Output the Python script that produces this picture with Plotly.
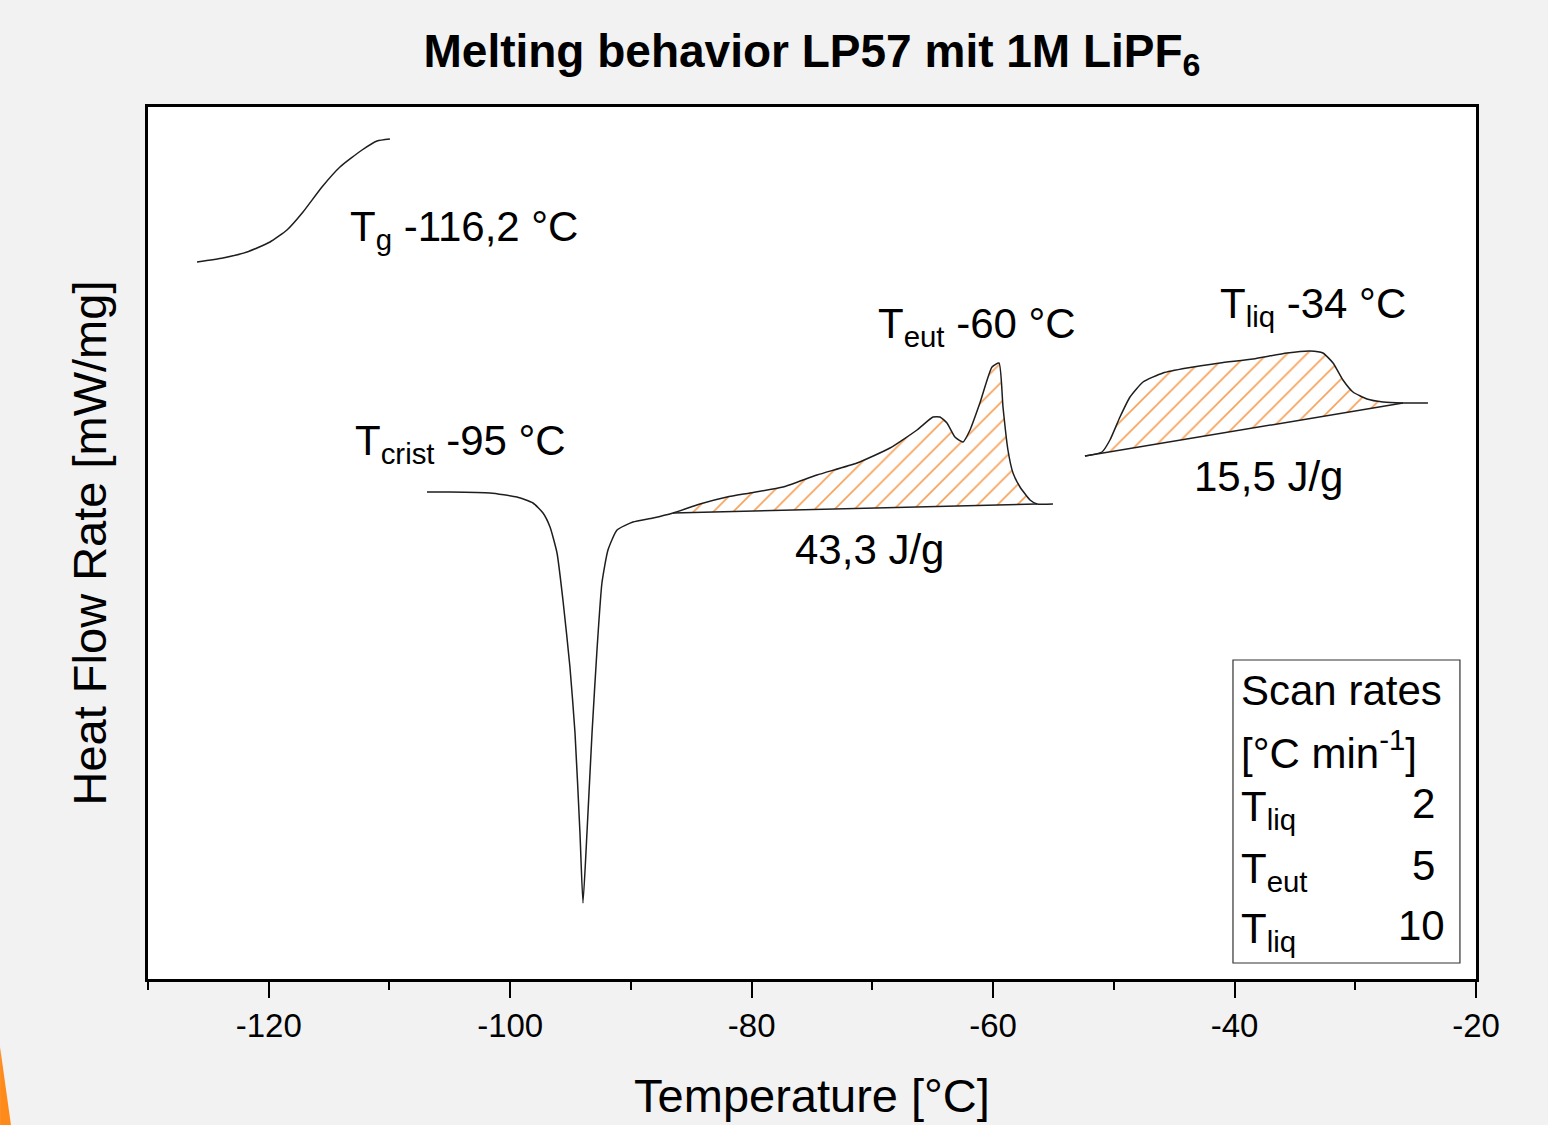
import plotly.graph_objects as go

# ---------------- data (Temperature °C, heat flow rate, arbitrary mW/mg scale) -------------
tg_T = [-125.94, -123.79, -121.80, -119.89, -118.49, -117.16, -115.59, -114.10, -112.27, -111.03, -109.96]
tg_Q = [7.17, 7.21, 7.27, 7.37, 7.49, 7.67, 7.92, 8.12, 8.29, 8.38, 8.40]

# crystallisation + eutectic melting scan
eu_T = [-106.89, -104.99, -101.67, -99.44, -98.11, -97.28, -96.70, -96.12, -95.63, -95.05, -94.63,
        -94.22, -93.97, -93.64, -93.22, -92.81, -92.40, -91.90, -91.15, -89.83, -88.17,
        -86.51, -84.28, -82.04, -80.14, -77.40, -74.59, -71.27, -68.54, -66.30, -64.98, -64.40,
        -63.82, -63.16, -62.49, -61.91, -61.09, -60.09, -59.51, -59.18, -58.77, -58.35, -57.77,
        -56.94, -56.36, -55.04]
eu_Q = [4.87, 4.87, 4.86, 4.82, 4.76, 4.66, 4.52, 4.26, 3.79, 3.12, 2.46,
        1.46, 0.76, 1.46, 2.46, 3.29, 3.96, 4.29, 4.49, 4.57, 4.61,
        4.66, 4.75, 4.82, 4.86, 4.92, 5.04, 5.16, 5.31, 5.49, 5.62, 5.62,
        5.56, 5.42, 5.37, 5.49, 5.76, 6.12, 6.16, 5.72, 5.29, 5.06, 4.92,
        4.79, 4.75, 4.75]

# liquidus melting scan
lq_T = [-52.39, -50.98, -50.32, -49.49, -48.66, -47.58, -45.93, -43.94, -41.21, -38.47, -35.66,
        -33.75, -32.68, -31.84, -31.02, -30.19, -29.03, -27.70, -26.05, -23.98]
lq_Q = [5.23, 5.27, 5.39, 5.62, 5.82, 5.97, 6.06, 6.11, 6.16, 6.20, 6.26,
        6.28, 6.26, 6.16, 5.99, 5.87, 5.80, 5.77, 5.76, 5.76]

# integration limits (indices into the scans) for the enthalpy areas
eu_int = (21, 44)
lq_int = (0, 18)

labels_main = ["T<sub>g</sub> -116,2 °C", "T<sub>crist</sub> -95 °C", "T<sub>eut</sub> -60 °C",
               "T<sub>liq</sub> -34 °C"]
enthalpies = ["43,3 J/g", "15,5 J/g"]
legend_rows = ["T<sub>liq</sub>", "T<sub>eut</sub>", "T<sub>liq</sub>"]
legend_rates = ["2", "5", "10"]

x_ticks = [-120, -100, -80, -60, -40, -20]

# ---------------- figure ----------------
FONT = "Liberation Sans, Arial, sans-serif"
LINE = "#1e1e1e"
HATCH = "#f7a25a"

fig = go.Figure()

def hatch_area(T, Q, lim):
    i0, i1 = lim
    xs = T[i0:i1 + 1]
    ys = Q[i0:i1 + 1]
    fig.add_trace(go.Scatter(x=xs, y=ys, mode="none", fill="toself",
                             fillcolor="rgba(0,0,0,0)",
                             fillpattern=dict(shape="/", fgcolor=HATCH, bgcolor="rgba(0,0,0,0)",
                                              size=14, solidity=0.12, fgopacity=1),
                             hoverinfo="skip", showlegend=False))
    fig.add_trace(go.Scatter(x=[T[i0], T[i1]], y=[Q[i0], Q[i1]], mode="lines",
                             line=dict(color=LINE, width=1.5), showlegend=False))

hatch_area(eu_T, eu_Q, eu_int)
hatch_area(lq_T, lq_Q, lq_int)

for T, Q in [(tg_T, tg_Q), (eu_T, eu_Q), (lq_T, lq_Q)]:
    fig.add_trace(go.Scatter(x=T, y=Q, mode="lines",
                             line=dict(color=LINE, width=1.5, shape="spline", smoothing=0.5),
                             showlegend=False))

ann_font = dict(family=FONT, size=42, color="black")
main_pos = [(-113.43, 7.50), (-113.02, 5.36), (-69.70, 6.53), (-41.37, 6.73)]
for txt, (x, y) in zip(labels_main, main_pos):
    fig.add_annotation(x=x, y=y, text=txt, showarrow=False, xanchor="left", yanchor="middle", font=ann_font)

for txt, (x, y) in zip(enthalpies, [(-70.2, 4.30), (-37.15, 5.03)]):
    fig.add_annotation(x=x, y=y, text=txt, showarrow=False, xanchor="center", yanchor="middle", font=ann_font)

# scan-rate box
fig.add_shape(type="rect", x0=-40.13, x1=-21.33, y0=0.16, y1=3.19, xref="x", yref="y",
              line=dict(color="#333333", width=1.2), fillcolor="white", layer="below")
fig.add_annotation(x=-39.6, y=2.89, text="Scan rates", showarrow=False, xanchor="left", yanchor="middle", font=ann_font)
fig.add_annotation(x=-39.6, y=2.29, text="[°C min<sup>-1</sup>]", showarrow=False, xanchor="left", yanchor="middle", font=ann_font)
row_y = [1.70, 1.08, 0.48]
rate_x = [-23.2, -23.2, -22.4]
for lab, rate, y, rx in zip(legend_rows, legend_rates, row_y, rate_x):
    fig.add_annotation(x=-39.6, y=y, text=lab, showarrow=False, xanchor="left", yanchor="middle", font=ann_font)
    fig.add_annotation(x=rx, y=y + 0.06, text=rate, showarrow=False, xanchor="right", yanchor="middle", font=ann_font)

# decorative orange sliver at lower-left of the slide
fig.add_shape(type="path", xref="paper", yref="paper",
              path="M -0.1114 -0.078 L -0.1032 -0.1674 L -0.1114 -0.1674 Z",
              fillcolor="#ff8a1c", line=dict(width=0))

fig.update_layout(
    width=1548, height=1125,
    paper_bgcolor="#f2f2f2", plot_bgcolor="white",
    margin=dict(l=148, r=72, t=107, b=146),
    title=dict(text="<b>Melting behavior LP57 mit 1M LiPF<sub>6</sub></b>",
               x=0.5, xref="paper", xanchor="center", y=0.955, yref="container", yanchor="middle",
               font=dict(family=FONT, size=46, color="black")),
    showlegend=False,
)
fig.update_xaxes(range=[-130, -20], tickvals=x_ticks, ticktext=[str(v) for v in x_ticks],
                 ticks="outside", ticklen=16, tickwidth=2, tickcolor="black",
                 minor=dict(dtick=10, tick0=-130, ticks="outside", ticklen=8, tickwidth=2, tickcolor="black"),
                 showline=True, linecolor="black", linewidth=2.5, mirror=True, showgrid=False, zeroline=False,
                 tickfont=dict(family=FONT, size=33, color="black"),
                 title=dict(text="Temperature [°C]", standoff=36, font=dict(family=FONT, size=47, color="black")))
fig.update_yaxes(range=[0, 8.72], showticklabels=False, ticks="", showgrid=False, zeroline=False,
                 showline=True, linecolor="black", linewidth=2.5, mirror=True,
                 title=dict(text="Heat Flow Rate [mW/mg]", standoff=24, font=dict(family=FONT, size=47, color="black")))

fig.write_html("out.html")
